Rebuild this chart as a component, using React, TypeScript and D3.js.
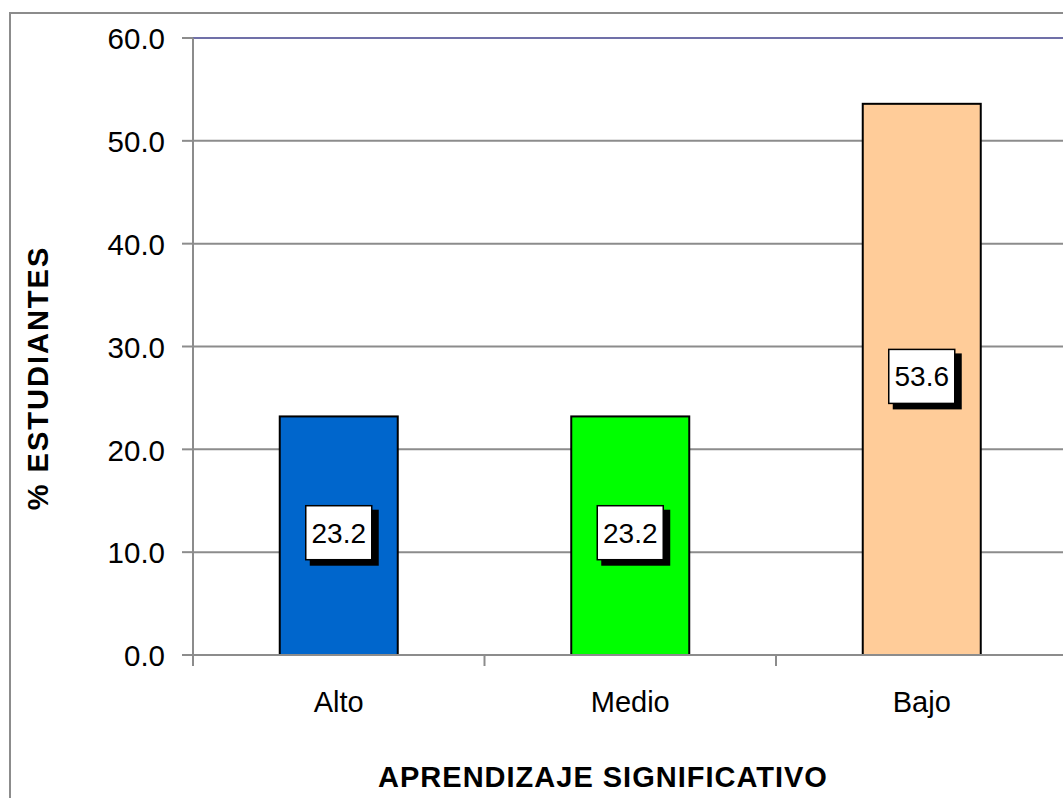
import React from "react";
import * as d3 from "d3";

const categories = ["Alto", "Medio", "Bajo"];
const values = [23.2, 23.2, 53.6];
const barColors = ["#0066CC", "#00FF00", "#FFCC99"];
const yTicks = [0, 10, 20, 30, 40, 50, 60];
const yTitle = "% ESTUDIANTES";
const xTitle = "APRENDIZAJE SIGNIFICATIVO";

const W = 1063;
const H = 798;
const FONT = "'Liberation Sans', Arial, sans-serif";

export default function App() {
  const left = 193;
  const top = 38;
  const bottom = 655;
  const band = 291.5;
  const right = left + band * categories.length;

  const x = d3.scaleBand<string>().domain(categories).range([left, right]).paddingInner(0).paddingOuter(0);
  const y = d3.scaleLinear().domain([0, 60]).range([bottom, top]);
  const barW = 118;
  const grey = "#8C8C8C";

  const boxW = 66;
  const boxH = 54;

  return (
    <svg width={W} height={H} style={{ position: "absolute", left: 0, top: 0, background: "#fff" }}>
      <rect x={10} y={13} width={W + 50} height={H + 50} fill="#fff" stroke={grey} strokeWidth={2} />
      {/* gridlines */}
      {yTicks.filter((t) => t > 0 && t < 60).map((t) => (
        <line key={t} x1={left} x2={right} y1={y(t)} y2={y(t)} stroke={grey} strokeWidth={2} />
      ))}
      <line x1={left} x2={right} y1={y(60)} y2={y(60)} stroke="#7070A8" strokeWidth={2} />
      {/* y axis */}
      <line x1={left} x2={left} y1={top} y2={bottom + 10} stroke={grey} strokeWidth={2} />
      {yTicks.map((t) => (
        <g key={t}>
          <line x1={left - 11} x2={left} y1={y(t)} y2={y(t)} stroke={grey} strokeWidth={2} />
          <text x={165} y={y(t)} dy="0.38em" textAnchor="end" fontFamily={FONT} fontSize={29.5} fill="#000">
            {t.toFixed(1)}
          </text>
        </g>
      ))}
      {/* bars */}
      {categories.map((c, i) => {
        const cx = (x(c) as number) + x.bandwidth() / 2;
        return (
          <rect key={c} x={cx - barW / 2} y={y(values[i])} width={barW} height={bottom - y(values[i])}
            fill={barColors[i]} stroke="#000" strokeWidth={2} />
        );
      })}
      {/* x axis */}
      <line x1={left} x2={right} y1={bottom} y2={bottom} stroke={grey} strokeWidth={2} />
      {d3.range(categories.length + 1).map((k) => (
        <line key={k} x1={left + k * band} x2={left + k * band} y1={bottom} y2={bottom + 11} stroke={grey} strokeWidth={2} />
      ))}
      {categories.map((c) => (
        <text key={c} x={(x(c) as number) + x.bandwidth() / 2} y={712} textAnchor="middle" fontFamily={FONT} fontSize={29} fill="#000">
          {c}
        </text>
      ))}
      {/* data labels */}
      {categories.map((c, i) => {
        const cx = (x(c) as number) + x.bandwidth() / 2;
        const cy = y(values[i] / 2) - 3;
        return (
          <g key={c}>
            <rect x={cx - boxW / 2 + 4} y={cy - boxH / 2 + 4} width={boxW + 3} height={boxH + 2} fill="#000" />
            <rect x={cx - boxW / 2} y={cy - boxH / 2} width={boxW} height={boxH} fill="#fff" stroke="#000" strokeWidth={1.5} />
            <text x={cx} y={cy} dy="0.36em" textAnchor="middle" fontFamily={FONT} fontSize={28} fill="#000">
              {values[i].toFixed(1)}
            </text>
          </g>
        );
      })}
      {/* titles */}
      <text transform={`translate(48,378) rotate(-90)`} textAnchor="middle" fontFamily={FONT} fontWeight="bold" fontSize={29} letterSpacing={2} fill="#000">
        {yTitle}
      </text>
      <text x={603} y={787} textAnchor="middle" fontFamily={FONT} fontWeight="bold" fontSize={29} letterSpacing={1} fill="#000">
        {xTitle}
      </text>
    </svg>
  );
}
